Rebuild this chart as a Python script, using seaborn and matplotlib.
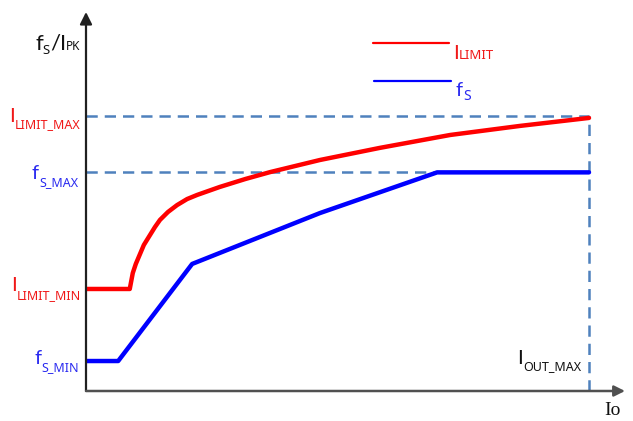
import numpy as np
import pandas as pd
import matplotlib
matplotlib.use("Agg")
import matplotlib.pyplot as plt
import seaborn as sns

# Output current (normalised, I_OUT_MAX = 10) and the two control curves
ilimit_io = [0.0, 0.87, 0.93, 0.99, 1.15, 1.37, 1.47, 1.63, 1.81, 2.01, 2.21, 2.66,
             3.17, 3.66, 4.65, 5.84, 7.24, 8.63, 10.0]
ilimit_val = [3.71, 3.71, 4.29, 4.62, 5.31, 5.96, 6.22, 6.51, 6.76, 6.98, 7.13, 7.42,
              7.71, 7.96, 8.4, 8.84, 9.31, 9.64, 9.93]
fs_io = [0.0, 0.64, 2.11, 4.65, 6.98, 10.0]
fs_val = [1.09, 1.09, 4.62, 6.47, 7.95, 7.95]

ilimit_max = 10.0
fs_max = 7.95
iout_max = 10.0

W, H = 633, 421
FONT = ["Lato", "DejaVu Sans"]
SUBFONT = ["Noto Sans", "DejaVu Sans"]
RED = "#FF0000"
BLUE = "#0000FF"
RED_TXT = "#F01818"
BLUE_TXT = "#2A2AF0"
DASH = "#4F81BD"

sns.set_theme(style="white")
plt.rcParams["font.family"] = FONT

fig = plt.figure(figsize=(W / 100, H / 100), dpi=100)
x0px, x1px, y0px, y1px = 86, 625, 391, 12
ax = fig.add_axes([x0px / W, 1 - y0px / H, (x1px - x0px) / W, (y0px - y1px) / H])
ax.set_xlim(0, (x1px - x0px) / 50.3)
ax.set_ylim(0, (y0px - y1px) / 27.5)
ax.set_axis_off()

df_i = pd.DataFrame({"Io": ilimit_io, "v": ilimit_val})
df_f = pd.DataFrame({"Io": fs_io, "v": fs_val})

# reference levels
ax.plot([0, iout_max], [ilimit_max, ilimit_max], color=DASH, lw=1.8, dashes=(4.5, 2.8), zorder=1)
ax.plot([0, iout_max], [fs_max, fs_max], color=DASH, lw=1.8, dashes=(4.5, 2.8), zorder=1)
ax.plot([iout_max, iout_max], [0, ilimit_max], color=DASH, lw=1.8, dashes=(4.5, 2.8), zorder=1)

sns.lineplot(data=df_i, x="Io", y="v", ax=ax, color=RED, lw=3.2, zorder=3,
             estimator=None, sort=False, legend=False)
sns.lineplot(data=df_f, x="Io", y="v", ax=ax, color=BLUE, lw=3.2, zorder=3,
             estimator=None, sort=False, legend=False)
for ln in ax.get_lines()[-2:]:
    ln.set_solid_joinstyle("round")

# axes with arrow heads
ax.annotate("", xy=(0, 1), xycoords="axes fraction", xytext=(0, 0),
            textcoords="axes fraction",
            arrowprops=dict(arrowstyle="-|>", color="#202020", lw=1.6,
                            mutation_scale=18, shrinkA=0, shrinkB=0), zorder=4)
ax.annotate("", xy=(1, 0), xycoords="axes fraction", xytext=(0, 0),
            textcoords="axes fraction",
            arrowprops=dict(arrowstyle="-|>", color="#505050", lw=1.8,
                            mutation_scale=16, shrinkA=0, shrinkB=0), zorder=4)

renderer = fig.canvas.get_renderer()


def rich(x, y, parts, color, align="left"):
    """Place a run of text pieces (text, size, drop in px, is_sub) on a common baseline."""
    placed = []
    cx = 0.0
    for s, fs, dy, sub in parts:
        t = fig.text(0, 0, s, fontsize=fs, color=color, va="baseline", ha="left",
                     family=SUBFONT if sub else FONT)
        w = t.get_window_extent(renderer).width
        placed.append((t, cx, dy))
        cx += w
    start = x - cx if align == "right" else x
    for t, off, dy in placed:
        t.set_position(((start + off) / W, 1 - (y + dy) / H))


MAIN, SUB = 14.5, 9

# axis titles
rich(35, 50, [("f", 16, 0, False), ("S", SUB + 0.5, 4, True), ("/I", 16, 0, False),
              ("PK", SUB - 0.5, 0, True)], "#111111")
fig.text(604 / W, 1 - 415 / H, "Io", fontsize=14, color="#111111",
         family=["Liberation Serif", "DejaVu Serif"], va="baseline", ha="left")

# level labels on the vertical axis
rich(81, 122, [("I", MAIN, 0, False), ("LIMIT_MAX", SUB, 6, True)], RED_TXT, align="right")
rich(78, 179, [("f", MAIN, 0, False), ("S_MAX", SUB, 7, True)], BLUE_TXT, align="right")
rich(81, 291, [("I", MAIN, 0, False), ("LIMIT_MIN", SUB, 8, True)], RED_TXT, align="right")
rich(79, 364, [("f", MAIN, 0, False), ("S_MIN", SUB, 7, True)], BLUE_TXT, align="right")
rich(517, 364, [("I", MAIN, 0, False), ("OUT_MAX", SUB, 6, True)], "#111111")

# legend
fig.add_artist(plt.Line2D([373 / W, 449 / W], [1 - 43 / H, 1 - 43 / H], color=RED, lw=1.6))
fig.add_artist(plt.Line2D([374 / W, 451 / W], [1 - 81 / H, 1 - 81 / H], color=BLUE, lw=1.6))
rich(453, 59, [("I", MAIN, 0, False), ("LIMIT", SUB + 0.5, 0, True)], RED_TXT)
rich(456, 96, [("f", MAIN, 0, False), ("S", SUB + 1, 4, True)], BLUE_TXT)

fig.savefig("out.png", dpi=100, facecolor="white")
